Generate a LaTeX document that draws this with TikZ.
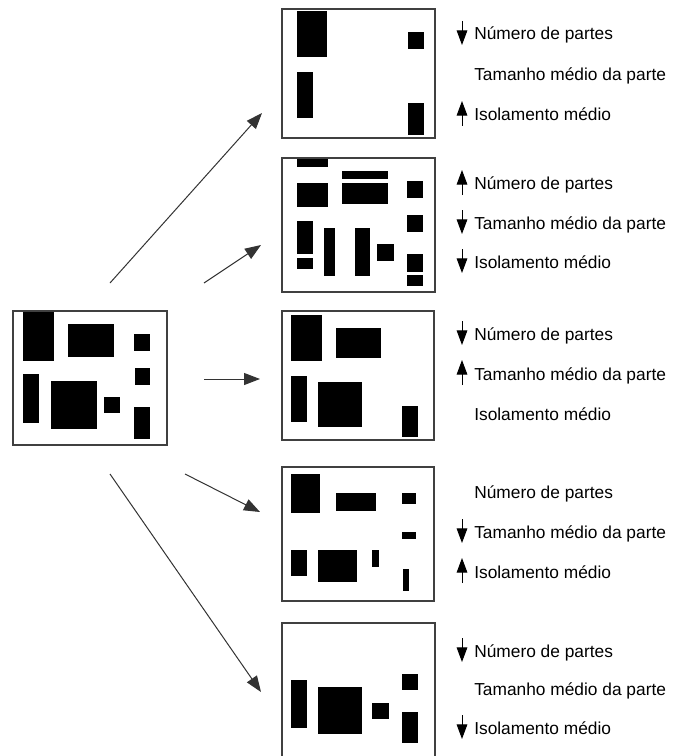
\documentclass[tikz,border=0pt]{standalone}
\usepackage{xcolor}
\usepackage{fontspec}
\setmainfont{Liberation Sans}
\usepackage{tikz}
\usetikzlibrary{arrows.meta,calc}

\tikzset{
  frame/.style={draw=black!75, line width=1pt},
  part/.style={fill=black},
  conn/.style={draw=black!80, line width=0.75pt, -{Triangle[length=12pt,width=9pt]}},
  ind/.style={draw=black, line width=0.75pt, -{Triangle[length=11pt,width=8pt]}},
  lbl/.style={anchor=base west, inner sep=0.75pt, font=\fontsize{13}{15.6}\selectfont}
}

\begin{document}
\begin{tikzpicture}[x=0.75pt,y=0.75pt,yscale=-1,xscale=1]
\useasboundingbox (0,0) rectangle (676,756);

%Shape: Rectangle (original layout)
\draw [frame] (13,311) rectangle (167,445);
\fill [part] (23,312) rectangle (54,361);
\fill [part] (68,324) rectangle (114,357);
\fill [part] (134,334) rectangle (150,351);
\fill [part] (135,368) rectangle (150,385);
\fill [part] (23,374) rectangle (39,423);
\fill [part] (51,381) rectangle (97,429);
\fill [part] (104,397) rectangle (120,413);
\fill [part] (134,407) rectangle (150,439);

%Shape: Rectangle (result 1)
\draw [frame] (282,9) rectangle (435,138);
\fill [part] (297,11) rectangle (327,57);
\fill [part] (408,32) rectangle (424,49);
\fill [part] (297,72) rectangle (313,118);
\fill [part] (408,103) rectangle (424,135);

%Shape: Rectangle (result 2)
\draw [frame] (282,158) rectangle (435,292);
\fill [part] (297,159) rectangle (328,167);
\fill [part] (342,171) rectangle (388,179);
\fill [part] (342,183) rectangle (388,204);
\fill [part] (297,183) rectangle (328,207);
\fill [part] (407,181) rectangle (423,198);
\fill [part] (407,215) rectangle (423,232);
\fill [part] (297,221) rectangle (313,254);
\fill [part] (297,258) rectangle (313,269);
\fill [part] (324,228) rectangle (335,276);
\fill [part] (355,228) rectangle (370,276);
\fill [part] (377,244) rectangle (394,261);
\fill [part] (407,254) rectangle (423,272);
\fill [part] (407,275) rectangle (423,286);

%Shape: Rectangle (result 3)
\draw [frame] (282,311) rectangle (434,440);
\fill [part] (291,315) rectangle (322,361);
\fill [part] (336,328) rectangle (381,358);
\fill [part] (291,376) rectangle (307,422);
\fill [part] (318,382) rectangle (362,427);
\fill [part] (402,406) rectangle (418,437);

%Shape: Rectangle (result 4)
\draw [frame] (282,467) rectangle (434,601);
\fill [part] (291,474) rectangle (320,513);
\fill [part] (336,493) rectangle (376,511);
\fill [part] (402,493) rectangle (416,504);
\fill [part] (402,532) rectangle (416,539);
\fill [part] (291,550) rectangle (307,576);
\fill [part] (318,550) rectangle (357,582);
\fill [part] (372,550) rectangle (379,567);
\fill [part] (403,569) rectangle (409,591);

%Shape: Rectangle (result 5)
\draw [frame] (282,623) rectangle (435,760);
\fill [part] (291,680) rectangle (307,728);
\fill [part] (318,687) rectangle (362,734);
\fill [part] (372,703) rectangle (389,719);
\fill [part] (402,674) rectangle (418,690);
\fill [part] (402,712) rectangle (418,743);

%Straight Lines
\coordinate (s1) at (110,283);  \coordinate (e1) at (262,113);
\coordinate (s2) at (204,283);  \coordinate (e2) at (261,245);
\coordinate (s3) at (204,379);  \coordinate (e3) at (260,379);
\coordinate (s4) at (185,474);  \coordinate (e4) at (260,512);
\coordinate (s5) at (110,474);  \coordinate (e5) at (261,692);
\draw [conn] (s1) -- (e1);
\draw [conn] (s2) -- (e2);
\draw [conn] (s3) -- (e3);
\draw [conn] (s4) -- (e4);
\draw [conn] (s5) -- (e5);

% Text Node
\node (num1) [lbl] at (473,40) {Número de partes};
\node (tam1) [lbl] at (473,81) {Tamanho médio da parte};
\node (iso1) [lbl] at (473,121) {Isolamento médio};
\draw [ind] ($(num1.base west)+(-11,-19)$) -- ($(num1.base west)+(-11,5)$);
\draw [ind] ($(iso1.base west)+(-11,5)$) -- ($(iso1.base west)+(-11,-20)$);

% Text Node
\node (num2) [lbl] at (473,190) {Número de partes};
\node (tam2) [lbl] at (473,229) {Tamanho médio da parte};
\node (iso2) [lbl] at (473,268) {Isolamento médio};
\draw [ind] ($(num2.base west)+(-11,5)$) -- ($(num2.base west)+(-11,-20)$);
\draw [ind] ($(tam2.base west)+(-11,-19)$) -- ($(tam2.base west)+(-11,5)$);
\draw [ind] ($(iso2.base west)+(-11,-19)$) -- ($(iso2.base west)+(-11,5)$);

% Text Node
\node (num3) [lbl] at (473,340) {Número de partes};
\node (tam3) [lbl] at (473,380) {Tamanho médio da parte};
\node (iso3) [lbl] at (473,420) {Isolamento médio};
\draw [ind] ($(num3.base west)+(-11,-19)$) -- ($(num3.base west)+(-11,5)$);
\draw [ind] ($(tam3.base west)+(-11,5)$) -- ($(tam3.base west)+(-11,-20)$);

% Text Node
\node (num4) [lbl] at (473,498) {Número de partes};
\node (tam4) [lbl] at (473,538) {Tamanho médio da parte};
\node (iso4) [lbl] at (473,578) {Isolamento médio};
\draw [ind] ($(tam4.base west)+(-11,-19)$) -- ($(tam4.base west)+(-11,5)$);
\draw [ind] ($(iso4.base west)+(-11,5)$) -- ($(iso4.base west)+(-11,-20)$);

% Text Node
\node (num5) [lbl] at (473,657) {Número de partes};
\node (tam5) [lbl] at (473,695) {Tamanho médio da parte};
\node (iso5) [lbl] at (473,734) {Isolamento médio};
\draw [ind] ($(num5.base west)+(-11,-19)$) -- ($(num5.base west)+(-11,5)$);
\draw [ind] ($(iso5.base west)+(-11,-19)$) -- ($(iso5.base west)+(-11,5)$);

\end{tikzpicture}
\end{document}
